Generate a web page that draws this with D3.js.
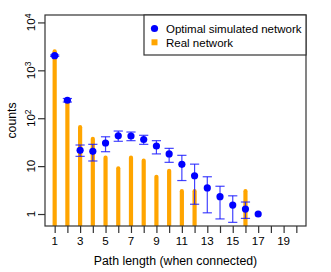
<!DOCTYPE html>
<html>
<head>
<meta charset="utf-8">
<script src="https://cdn.jsdelivr.net/npm/d3@7"></script>
<style>
body { margin: 0; background: #fff; }
text { font-family: "Liberation Sans", Arial, sans-serif; fill: #000; }
</style>
</head>
<body>
<div id="chart"></div>
<script>
const pathLength = [1,2,3,4,5,6,7,8,9,10,11,12,13,14,15,16,17];
const realCounts = [2500,240,65,37,15,9,15,13,6,8,3,3,0,0,0,3,0];
const simMean = [2020,237,21.4,20.4,30.4,43,42.5,36,26.3,18,10.9,6.3,3.5,2.3,1.54,1.27,1.0];
const simLow  = [1950,218,16,12.8,20,33,34,28.5,18,12,5,1.6,1.06,0.79,0.67,0.81,null];
const simHigh = [2090,258,27.6,28.5,41,54,51.5,44,34,23.5,16.8,11,6,3.8,2.4,1.78,null];
const xTicks = d3.range(1,21);
const xLabels = [1,3,5,7,9,11,13,15,17,19];
const yTicks = [1,10,100,1000,10000];
const yLabels = [['1',''],['10',''],['10','2'],['10','3'],['10','4']];
const legendLabels = ['Optimal simulated network','Real network'];

const width = 331, height = 272;
const plotLeft = 45, plotRight = 306, plotTop = 15, plotBottom = 226;

const svg = d3.select('#chart')
    .append('svg')
    .attr('width',width)
    .attr('height',height);

let scaleX = d3.scaleLinear().domain([0.24,20.76]).range([plotLeft,plotRight]);
let scaleY = d3.scaleLog().domain([Math.pow(10,-0.25),Math.pow(10,4.155)]).range([plotBottom,plotTop]);

svg.append('clipPath').attr('id','plotclip')
    .append('rect')
    .attr('x',plotLeft).attr('y',plotTop)
    .attr('width',plotRight-plotLeft).attr('height',plotBottom-plotTop);

let real = pathLength.map((d,i)=>({x:d,v:realCounts[i]})).filter(d=>d.v>0);
let sim = pathLength.map((d,i)=>({x:d,m:simMean[i],lo:simLow[i],hi:simHigh[i]}));

svg.append('g')
    .attr('clip-path','url(#plotclip)')
    .selectAll('line')
    .data(real)
    .enter()
    .append('line')
    .attr('x1',d=>scaleX(d.x))
    .attr('x2',d=>scaleX(d.x))
    .attr('y1',plotBottom+5)
    .attr('y2',d=>scaleY(d.v))
    .style('stroke','#FFA500')
    .style('stroke-width',4.2)
    .style('stroke-linecap','round');

let err = svg.append('g')
    .selectAll('g')
    .data(sim.filter(d=>d.lo!=null))
    .enter()
    .append('g')
    .style('stroke','rgba(20,20,255,0.8)')
    .style('stroke-width',1.2);

err.append('line')
    .attr('x1',d=>scaleX(d.x)).attr('x2',d=>scaleX(d.x))
    .attr('y1',d=>scaleY(d.lo)).attr('y2',d=>scaleY(d.hi));
err.append('line')
    .attr('x1',d=>scaleX(d.x)-4.6).attr('x2',d=>scaleX(d.x)+4.6)
    .attr('y1',d=>scaleY(d.lo)).attr('y2',d=>scaleY(d.lo));
err.append('line')
    .attr('x1',d=>scaleX(d.x)-4.6).attr('x2',d=>scaleX(d.x)+4.6)
    .attr('y1',d=>scaleY(d.hi)).attr('y2',d=>scaleY(d.hi));

svg.append('g')
    .selectAll('circle')
    .data(sim)
    .enter()
    .append('circle')
    .attr('cx',d=>scaleX(d.x))
    .attr('cy',d=>scaleY(d.m))
    .attr('r',3.6)
    .style('fill','#0000FF');

// box
svg.append('rect')
    .attr('x',plotLeft).attr('y',plotTop)
    .attr('width',plotRight-plotLeft).attr('height',plotBottom-plotTop)
    .style('fill','none')
    .style('stroke','#333')
    .style('stroke-width',1.2);

let xAxis = d3.axisBottom(scaleX).tickValues(xTicks).tickSize(7).tickFormat('');
svg.append('g')
    .attr('transform','translate(0,'+plotBottom+')')
    .call(xAxis)
    .call(g=>g.select('.domain').remove())
    .call(g=>g.selectAll('line').style('stroke','#333').style('stroke-width',1.2));

svg.append('g')
    .selectAll('text')
    .data(xLabels)
    .enter()
    .append('text')
    .attr('x',d=>scaleX(d))
    .attr('y',245)
    .style('text-anchor','middle')
    .style('font-size','11.6px')
    .text(d=>d);

let yAxis = d3.axisLeft(scaleY).tickValues(yTicks).tickSize(7).tickFormat('');
svg.append('g')
    .attr('transform','translate('+plotLeft+',0)')
    .call(yAxis)
    .call(g=>g.select('.domain').remove())
    .call(g=>g.selectAll('line').style('stroke','#333').style('stroke-width',1.2));

let yl = svg.append('g')
    .selectAll('text')
    .data(yTicks)
    .enter()
    .append('text')
    .attr('transform',d=>'translate(34.5,'+scaleY(d)+') rotate(-90)')
    .style('text-anchor','middle')
    .style('font-size','11.6px');
yl.append('tspan').text((d,i)=>yLabels[i][0]);
yl.append('tspan')
    .attr('dy','-0.45em')
    .style('font-size','8.5px')
    .text((d,i)=>yLabels[i][1]);

svg.append('text')
    .attr('x',(plotLeft+plotRight)/2)
    .attr('y',265)
    .style('text-anchor','middle')
    .style('font-size','12.3px')
    .text('Path length (when connected)');

svg.append('text')
    .attr('transform','translate(15.5,'+((plotTop+plotBottom)/2)+') rotate(-90)')
    .style('text-anchor','middle')
    .style('font-size','12.3px')
    .text('counts');

// legend
let lg = svg.append('g');
lg.append('rect')
    .attr('x',144).attr('y',plotTop)
    .attr('width',plotRight-144).attr('height',40)
    .style('fill','#fff')
    .style('stroke','#333')
    .style('stroke-width',1.2);
lg.append('circle')
    .attr('cx',154.5).attr('cy',28.5).attr('r',3.6)
    .style('fill','#0000FF');
lg.append('rect')
    .attr('x',151.5).attr('y',39.3).attr('width',6).attr('height',6)
    .style('fill','#FFA500');
lg.selectAll('text.lab')
    .data(legendLabels)
    .enter()
    .append('text')
    .attr('class','lab')
    .attr('x',166)
    .attr('y',(d,i)=>32.6+i*14)
    .style('font-size','11.5px')
    .text(d=>d);
</script>
</body>
</html>
